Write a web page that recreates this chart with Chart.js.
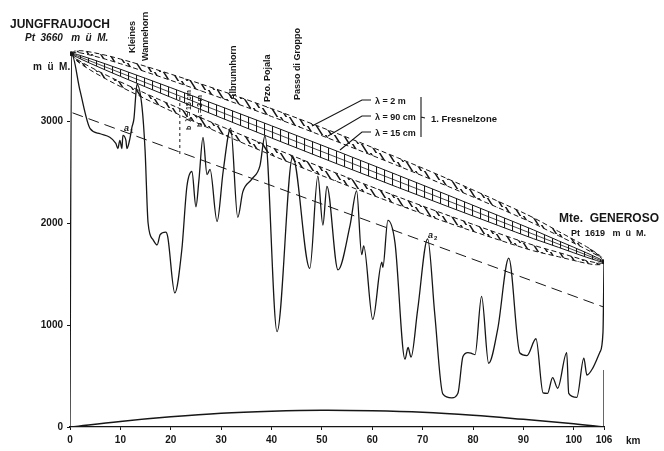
<!DOCTYPE html>
<html>
<head>
<meta charset="utf-8">
<script src="https://cdn.jsdelivr.net/npm/chart.js@4.4.0/dist/chart.umd.min.js"></script>
<style>
  html, body { margin: 0; padding: 0; background: #fff; }
  #wrap { width: 664px; height: 451px; }
</style>
</head>
<body>
<div id="wrap"><canvas id="c" width="664" height="451"></canvas></div>
<script>
// Geländeprofil Jungfraujoch - Monte Generoso
const profileKm = [0, 0.3, 2.0, 4.0, 6.0, 9.1, 9.5, 9.9, 10.3, 10.5, 11.1, 11.3, 11.9, 12.3, 12.7, 13.1, 13.3,
  14.3, 14.9, 15.5, 16.5, 17.3, 17.9, 19.0, 19.4, 20.8, 22.2, 23.2, 24.2, 25.0, 25.6, 26.4, 27.2, 27.8,
  29.2, 30.4, 31.9, 33.3, 34.3, 36.1, 37.7, 38.7, 41.1, 44.2, 47.6, 49.2, 50.2, 51.0, 53.2, 55.6, 56.9,
  57.9, 58.3, 60.1, 61.9, 62.1, 63.1, 64.5, 66.5, 67.1, 67.7, 69.0, 71.0, 72.4, 74.0, 75.8, 77.0, 78.0,
  79.0, 79.8, 80.4, 81.7, 83.1, 84.9, 87.1, 89.3, 90.7, 92.5, 93.9, 94.8, 95.8, 96.8, 98.6, 99.0, 100.6,
  102.0, 102.6, 103.8, 105.2, 105.8, 106];
const profileM = [0, 3660, 3295, 2925, 2875, 2780, 2730, 2810, 2730, 2860, 2810, 2730, 2830, 2940, 3025, 3280, 3360,
  3135, 2715, 2000, 1835, 1785, 1885, 1910, 1865, 1315, 1740, 2355, 2505, 2160, 2425, 2840, 2475, 2525,
  2015, 2505, 2930, 2055, 2305, 2430, 2560, 2855, 935, 2650, 1555, 2460, 1980, 2360, 1540, 1980, 2315,
  1690, 1775, 1055, 1615, 1565, 2025, 1810, 665, 780, 685, 1145, 1845, 1110, 325, 285, 330, 690,
  730, 720, 710, 1280, 625, 960, 1655, 725, 700, 865, 335, 330, 485, 380, 730, 330, 290,
  675, 510, 580, 735, 930, 1619];

// Stationen (Sichtlinie)
const stationKm = [0.3, 106];
const stationM = [3660, 1619];

// Halbe Breite der Fresnelzonen (m)
const zoneKm = [0.3, 1, 2, 4, 7, 10, 15, 20, 30, 40, 53, 65, 75, 85, 92, 97, 100, 102.5, 104.5, 105.5, 106];
const hw2m   = [0, 40, 62, 88, 115, 135, 160, 180, 210, 228, 236, 230, 215, 188, 162, 124, 102, 82, 57, 36, 0];
const hw90cm = [0, 27, 41, 58, 76, 89, 106, 119, 139, 151, 156, 152, 142, 125, 107, 82, 68, 55, 38, 24, 0];
const hw15cm = [0, 11, 16, 23, 30, 35, 42, 47, 55, 60, 62, 60, 56, 49, 43, 32, 27, 22, 15, 9, 0];

// Erdkrümmung
const earthKm = [0, 10, 20, 30, 40, 50, 60, 70, 80, 90, 100, 106];
const earthM = [0, 55, 100, 135, 155, 165, 160, 145, 115, 75, 32, 0];

// gestrichelte Linie a1 / a2
const dashKm = [0.5, 106];
const dashM = [3080, 1175];

// Markierung b
const markKm = [21.8, 21.8];
const markM = [3235, 2667];

// rechte Kante
const edgeKm = [106, 106];
const edgeM = [0, 560];

const xTicks = [0, 10, 20, 30, 40, 50, 60, 70, 80, 90, 100, 106];
const yTicks = [0, 1000, 2000, 3000];

const INK = '#161616';

function pts(xs, ys) {
  return xs.map((x, i) => ({ x: x, y: ys[i] }));
}

function sight(km) {
  const t = (km - stationKm[0]) / (stationKm[1] - stationKm[0]);
  return stationM[0] + (stationM[1] - stationM[0]) * t;
}

function zone(hw, sign) {
  return zoneKm.map((k, i) => ({ x: k, y: sight(k) + sign * hw[i] }));
}

// schräge "Z"-Schraffur
function hatch() {
  const c = document.createElement('canvas');
  c.width = 9; c.height = 9;
  const g = c.getContext('2d');
  g.strokeStyle = INK;
  g.lineWidth = 1.5;
  g.beginPath();
  g.moveTo(1, -1); g.lineTo(8, 10);
  g.moveTo(-8, -1); g.lineTo(-1, 10);
  g.moveTo(10, -1); g.lineTo(17, 10);
  g.stroke();
  return g.createPattern(c, 'repeat');
}

function ladder() {
  const c = document.createElement('canvas');
  c.width = 8; c.height = 8;
  const g = c.getContext('2d');
  g.strokeStyle = INK;
  g.lineWidth = 1.1;
  g.beginPath();
  g.moveTo(0.5, 0); g.lineTo(0.5, 8);
  g.stroke();
  return g.createPattern(c, 'repeat');
}

const lineBase = { showLine: true, pointRadius: 0, borderColor: INK, fill: false };

const textPlugin = {
  id: 'texts',
  afterDraw(chart) {
    const ctx = chart.ctx;
    ctx.save();
    ctx.fillStyle = INK;
    ctx.strokeStyle = INK;
    ctx.textBaseline = 'alphabetic';
    ctx.textAlign = 'left';

    ctx.font = 'bold 12px "Liberation Sans"';
    ctx.fillText('JUNGFRAUJOCH', 10, 28);
    ctx.font = 'italic bold 10px "Liberation Sans"';
    ctx.fillText('Pt  3660   m  ü  M.', 25, 41);
    ctx.font = 'bold 10px "Liberation Sans"';
    ctx.fillText('m  ü  M.', 33, 70);

    ctx.font = 'bold 12px "Liberation Sans"';
    ctx.fillText('Mte.  GENEROSO', 559, 222);
    ctx.font = 'bold 9px "Liberation Sans"';
    ctx.fillText('Pt  1619   m  ü  M.', 571, 236);

    ctx.font = 'bold 10px "Liberation Sans"';
    ctx.fillText('km', 626, 444);

    // Gipfelnamen, senkrecht
    ctx.font = 'bold 9px "Liberation Sans"';
    const vert = [
      ['Kleines', 133, 53], ['Wannehorn', 146, 61], ['Albrunnhorn', 234, 100],
      ['Pzo. Pojala', 268, 102], ['Passo di Groppo', 298, 100]
    ];
    ctx.textBaseline = 'middle';
    vert.forEach(([t, x, y]) => {
      ctx.save();
      ctx.translate(x, y);
      ctx.rotate(-Math.PI / 2);
      ctx.fillText(t, 0, 0);
      ctx.restore();
    });
    ctx.font = 'bold 7px "Liberation Sans"';
    [['b  λ = 2 m', 200, 127], ['b  λ = 15 cm', 189, 130]].forEach(([t, x, y]) => {
      ctx.save();
      ctx.translate(x, y);
      ctx.rotate(-Math.PI / 2);
      ctx.fillText(t, 0, 0);
      ctx.restore();
    });
    ctx.textBaseline = 'alphabetic';

    // Legende
    ctx.font = 'bold 9px "Liberation Sans"';
    ctx.fillText('λ = 2 m', 375, 104);
    ctx.fillText('λ = 90 cm', 375, 120);
    ctx.fillText('λ = 15 cm', 375, 136);
    ctx.font = 'bold 9.5px "Liberation Sans"';
    ctx.fillText('1. Fresnelzone', 431, 122);
    ctx.lineWidth = 1.1;
    ctx.beginPath();
    ctx.moveTo(421, 97); ctx.lineTo(421, 137);
    ctx.moveTo(421, 117); ctx.lineTo(425, 118);
    ctx.moveTo(371, 100); ctx.lineTo(362, 100); ctx.lineTo(312, 126);
    ctx.moveTo(371, 116); ctx.lineTo(362, 116); ctx.lineTo(328, 136);
    ctx.moveTo(371, 132); ctx.lineTo(362, 132); ctx.lineTo(340, 150);
    ctx.stroke();

    // Abstände a1, a2
    ctx.font = 'italic bold 9px "Liberation Sans"';
    ctx.fillText('a', 124, 131);
    ctx.fillText('a', 428, 238);
    ctx.font = 'bold 6px "Liberation Sans"';
    ctx.fillText('1', 130, 133);
    ctx.fillText('2', 434, 240);
    ctx.restore();
  }
};

new Chart(document.getElementById('c'), {
  type: 'scatter',
  data: {
    datasets: [
      { ...lineBase, data: zone(hw2m, 1), borderWidth: 1, borderDash: [5, 3], cubicInterpolationMode: 'monotone',
        fill: '+1', backgroundColor: hatch() },
      { ...lineBase, data: zone(hw90cm, 1), borderWidth: 1, borderDash: [5, 3], cubicInterpolationMode: 'monotone' },
      { ...lineBase, data: zone(hw15cm, 1), borderWidth: 1, cubicInterpolationMode: 'monotone',
        fill: '+1', backgroundColor: ladder() },
      { ...lineBase, data: zone(hw15cm, -1), borderWidth: 1, cubicInterpolationMode: 'monotone' },
      { ...lineBase, data: zone(hw90cm, -1), borderWidth: 1, borderDash: [5, 3], cubicInterpolationMode: 'monotone',
        fill: '+1', backgroundColor: hatch() },
      { ...lineBase, data: zone(hw2m, -1), borderWidth: 1, borderDash: [5, 3], cubicInterpolationMode: 'monotone' },
      { ...lineBase, data: pts(stationKm, stationM), borderWidth: 0.8, pointRadius: 2.5,
        pointBackgroundColor: INK, pointBorderWidth: 0 },
      { ...lineBase, data: pts(profileKm, profileM), borderWidth: 1.3, cubicInterpolationMode: 'monotone' },
      { ...lineBase, data: pts(dashKm, dashM), borderWidth: 1, borderDash: [11, 6] },
      { ...lineBase, data: pts(markKm, markM), borderWidth: 1, borderDash: [3, 3] },
      { ...lineBase, data: pts(edgeKm, edgeM), borderWidth: 1.3 },
      { ...lineBase, data: pts(earthKm, earthM), borderWidth: 1.5, tension: 0.4 }
    ]
  },
  options: {
    responsive: false,
    animation: false,
    devicePixelRatio: 1,
    layout: { padding: { left: 0, top: 19, right: 60, bottom: 0 } },
    plugins: { legend: { display: false }, tooltip: { enabled: false } },
    scales: {
      x: {
        type: 'linear', min: 0, max: 106,
        afterFit: s => { s.height = 24; },
        afterBuildTicks: s => { s.ticks = xTicks.map(v => ({ value: v })); },
        grid: { drawOnChartArea: false, drawTicks: true, tickLength: 3, color: INK },
        border: { display: true, color: INK, width: 1.2 },
        ticks: { color: INK, padding: 4, maxRotation: 0, autoSkip: false,
          callback: v => String(v),
          font: { family: 'Liberation Sans', size: 10, weight: 'bold' } }
      },
      y: {
        type: 'linear', min: 0, max: 4000,
        afterFit: s => { s.width = 70; },
        afterBuildTicks: s => { s.ticks = yTicks.map(v => ({ value: v })); },
        grid: { drawOnChartArea: false, drawTicks: true, tickLength: 3, color: INK },
        border: { display: false },
        ticks: { color: INK, padding: 4,
          callback: v => String(v),
          font: { family: 'Liberation Sans', size: 10, weight: 'bold' } }
      }
    }
  },
  plugins: [textPlugin]
});
</script>
</body>
</html>
